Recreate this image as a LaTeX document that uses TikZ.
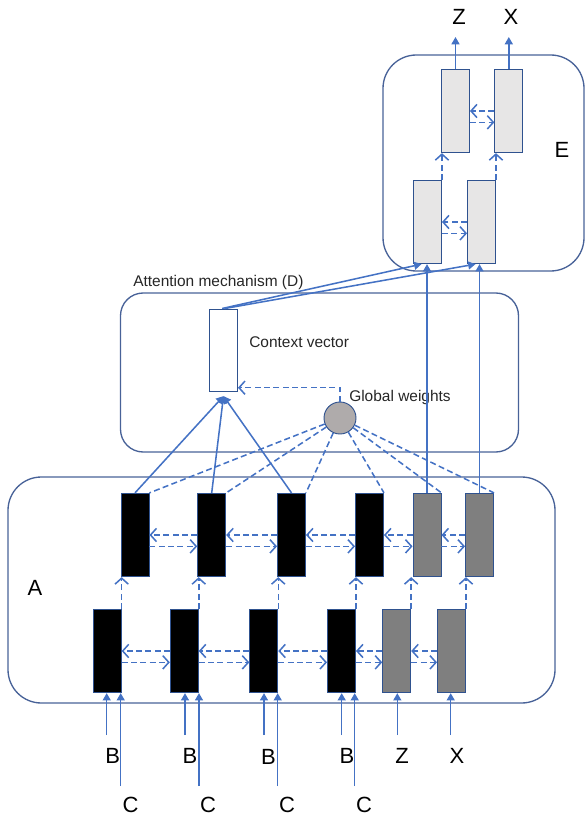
\documentclass[tikz,border=0pt]{standalone}
\usepackage{fontspec}
\setmainfont{Liberation Sans}
\usetikzlibrary{arrows.meta,calc}
\definecolor{ln}{RGB}{68,114,196}
\definecolor{bx}{RGB}{47,82,143}
\definecolor{rb}{RGB}{72,98,152}
\definecolor{gfill}{RGB}{127,127,127}
\definecolor{lfill}{RGB}{231,230,230}
\definecolor{cfill}{RGB}{175,171,171}
\begin{document}
\begin{tikzpicture}[x=0.75pt,y=-0.75pt,
  rbox/.style={draw=rb, line width=1pt, inner sep=0pt},
  cell/.style={draw=bx, line width=0.7pt, minimum width=21pt, minimum height=62.5pt, inner sep=0pt},
  blk/.style={cell, fill=black},
  gry/.style={cell, fill=gfill},
  lgt/.style={cell, fill=lfill},
  solid arrow/.style={draw=ln, line width=1.15pt, -{Triangle[length=5.5pt,width=6pt]}},
  dash arrow/.style={draw=ln, line width=1.15pt, dash pattern=on 4.5pt off 2.5pt, -{Straight Barb[length=4.5pt,width=10pt]}},
  dash line/.style={draw=ln, line width=1.15pt, dash pattern=on 4.5pt off 2.5pt},
  big/.style={font=\fontsize{16.5}{20}\selectfont, text=black, inner sep=0pt},
  small/.style={font=\fontsize{11.6}{14}\selectfont, text=black!85, inner sep=0pt, anchor=west}
]
\useasboundingbox (0,0) rectangle (585,816);

% container boxes
\node[rbox, rounded corners=25pt, minimum width=410.25pt, minimum height=169.5pt] (boxA) at (281.5,590) {};
\node[rbox, rounded corners=17pt, minimum width=298.5pt, minimum height=119.25pt] (boxD) at (319.5,372.5) {};
\node[rbox, rounded corners=25pt, minimum width=150.75pt, minimum height=162pt] (boxE) at (483.5,163) {};

% bottom row
\node[blk] (b1) at (107.2,651) {};
\node[blk] (b2) at (184.3,651) {};
\node[blk] (b3) at (263.8,651) {};
\node[blk] (b4) at (341.5,651) {};
\node[gry] (b5) at (396.7,651) {};
\node[gry] (b6) at (451.5,651) {};
% top row
\node[blk] (t1) at (135,535) {};
\node[blk] (t2) at (211.7,535) {};
\node[blk] (t3) at (291.5,535) {};
\node[blk] (t4) at (369.5,535) {};
\node[gry] (t5) at (427,535) {};
\node[gry] (t6) at (479.5,535) {};
% E cells
\node[lgt] (e3) at (427.5,222) {};
\node[lgt] (e4) at (481.5,222) {};
\node[lgt] (e1) at (455.5,111) {};
\node[lgt] (e2) at (508.8,111) {};
% context vector and global weights
\node[draw=bx, line width=0.7pt, fill=white, minimum width=21pt, minimum height=62pt, inner sep=0pt] (cv) at (223.5,350.3) {};
\node[circle, draw=bx, line width=0.7pt, fill=cfill, minimum size=24pt, inner sep=0pt] (gw) at (340,418) {};

% labels
\node[small] (lD) at (133,282) {Attention mechanism (D)};
\node[small] (lcv) at (249,342) {Context vector};
\node[small] (lgw) at (349,397) {Global weights};
\node[big] (lA) at (35,588) {A};
\node[big] (lE) at (562,150) {E};
\node[big] (oZ) at (459,17) {Z};
\node[big] (oX) at (511,17) {X};
\node[big] (lB1) at (112.7,755.5) {B};
\node[big] (lB2) at (190,755.5) {B};
\node[big] (lB3) at (268.5,756.5) {B};
\node[big] (lB4) at (347,755.5) {B};
\node[big] (iZ) at (402,755.5) {Z};
\node[big] (iX) at (457,755.5) {X};
\node[big] (lC1) at (130.5,804.5) {C};
\node[big] (lC2) at (208,804.5) {C};
\node[big] (lC3) at (287,804.5) {C};
\node[big] (lC4) at (364,804.5) {C};

% input arrows
\coordinate (sB1) at (106.7,735); \coordinate (sC1) at (120.7,786);
\coordinate (sB2) at (185,735);   \coordinate (sC2) at (199,786);
\coordinate (sB3) at (264,735);   \coordinate (sC3) at (277.7,786);
\coordinate (sB4) at (341.7,735); \coordinate (sC4) at (354.7,786);
\coordinate (sZ) at (397.3,735);  \coordinate (sX) at (450.7,735);
\foreach \s/\b in {sB1/b1,sC1/b1,sB2/b2,sC2/b2,sB3/b3,sC3/b3,sB4/b4,sC4/b4,sZ/b5,sX/b6}
  \draw[solid arrow] (\s) -- (\s |- \b.south);

% horizontal dashed arrows
\foreach \l/\r in {b1/b2,b2/b3,b3/b4,b4/b5,b5/b6,t1/t2,t2/t3,t3/t4,t4/t5,t5/t6,e1/e2,e3/e4}{
  \draw[dash arrow] (\r.west) -- (\l.east);
  \draw[dash arrow] ([yshift=-8.5pt]\l.east) -- ([yshift=-8.5pt]\r.west);
}

% vertical dashed arrows bottom -> top
\foreach \b/\t in {b1/t1,b2/t2,b3/t3,b4/t4,b5/t5,b6/t6,e3/e1,e4/e2}
  \draw[dash arrow] (\b.north east) -- (\b.north east |- \t.south);

% top row -> context vector
\foreach \t in {t1,t2,t3}
  \draw[solid arrow] (\t.north) -- ([yshift=-3pt]cv.south);

% global weights -> top row (dashed)
\foreach \t in {t1,t2,t3,t4,t5,t6}
  \draw[dash line] (gw) -- (\t.north east);

% global weights -> context vector
\draw[dash arrow] (gw.north) |- ([yshift=3.3pt]cv.south east);

% context vector -> E
\draw[solid arrow] ([xshift=-1pt]cv.north) -- ([xshift=-4.5pt]e3.south);
\draw[solid arrow] ([xshift=1pt]cv.north) -- ([xshift=-4.5pt]e4.south);
% gray top cells -> E
\draw[solid arrow] (t5.north) -- (t5.north |- e3.south);
\draw[solid arrow] (t6.north) -- (t6.north |- e4.south);

% outputs
\coordinate (pZ) at (455.5,37);
\coordinate (pX) at (508.8,37);
\draw[solid arrow] (e1.north) -- (pZ);
\draw[solid arrow] (e2.north) -- (pX);
\end{tikzpicture}
\end{document}
